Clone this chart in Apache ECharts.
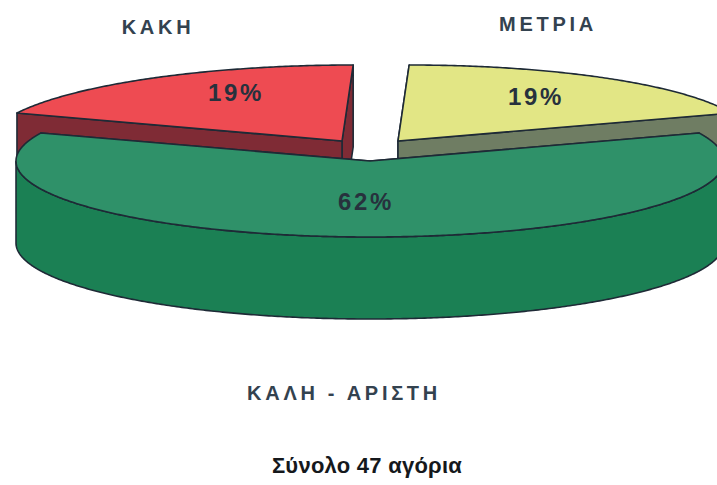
<!DOCTYPE html>
<html>
<head>
<meta charset="utf-8">
<style>
html,body{margin:0;padding:0;background:#fff}
#c{width:717px;height:485px}
#c svg text[style*="24px"]{letter-spacing:2.7px}
#c svg text[style*="20px"]{letter-spacing:3.7px}
#c svg text[style*="22px"]{letter-spacing:.25px}
</style>
<script src="https://cdn.jsdelivr.net/npm/echarts@6/dist/echarts.min.js"></script>
</head>
<body>
<div id="c"></div>
<script>
const categories = ['ΜΕΤΡΙΑ', 'ΚΑΚΗ', 'ΚΑΛΗ - ΑΡΙΣΤΗ'];
const values = [19, 19, 62];
const valueLabels = ['19%', '19%', '62%'];
const topColors = ['#e2e685', '#ee4b52', '#2f9169'];
const sideColors = ['#6f7d63', '#7f2b35', '#1b8054'];
const explodeX = [28, -28, 0];
const explodeY = [-20, -20, 0];
const leans = [0.147, 0.147, 0];
const valueLabelX = [536, 236, 366];
const valueLabelY = [96, 92, 201];
const nameX = [548, 158, 344];
const nameY = [24, 27, 393];
const title = 'Σύνολο 47 αγόρια';

const centerX = 370, centerY = 161, radiusX = 354, radiusY = 76, depth = 82;
const startAngle = 21.6;
const stroke = '#1e2a36';
const total = values.reduce((a, b) => a + b, 0);

function renderItem(params, api) {
  const i = params.dataIndex;
  let before = 0;
  for (let k = 0; k < i; k++) before += values[k];
  const value = api.value(0);
  const a0 = startAngle + before / total * 360;
  const a1 = a0 + value / total * 360;
  const cx = centerX + explodeX[i], cy = centerY + explodeY[i], lean = leans[i];
  const pt = (deg, drop) => {
    const t = deg * Math.PI / 180, s = Math.sin(t);
    return [cx + radiusX * Math.cos(t) + lean * radiusY * s, cy - radiusY * s + drop];
  };
  const arc = [];
  for (let d = a0; d < a1; d += 0.5) arc.push(pt(d, 0));
  arc.push(pt(a1, 0));
  const apex = [cx, cy];
  const down = p => [p[0], p[1] + depth];
  const shapeStyle = fill => ({ fill, stroke, lineWidth: 1.6, lineJoin: 'round' });
  const poly = (points, fill) => ({ type: 'polygon', shape: { points }, style: shapeStyle(fill), silent: true });
  const ends = [arc[0], arc[arc.length - 1]].sort((p, q) => p[1] - q[1]);
  const children = ends.map(e => poly([apex, e, down(e), down(apex)], sideColors[i]));
  const front = arc.filter(p => p[1] >= cy);
  if (front.length > 1) {
    children.push(poly(front.concat(front.slice().reverse().map(down)), sideColors[i]));
  }
  children.push(poly([apex].concat(arc), topColors[i]));
  children.push({
    type: 'text', silent: true,
    style: { x: valueLabelX[i], y: valueLabelY[i], text: valueLabels[i], fill: '#27313d',
      font: 'bold 24px "Liberation Sans", Arial, sans-serif', align: 'center', verticalAlign: 'middle' }
  });
  children.push({
    type: 'text', silent: true,
    style: { x: nameX[i], y: nameY[i], text: categories[i], fill: '#33424f',
      font: 'bold 20px "Liberation Sans", Arial, sans-serif', align: 'center', verticalAlign: 'middle' }
  });
  return { type: 'group', children };
}

const chart = echarts.init(document.getElementById('c'), null, { renderer: 'svg', width: 717, height: 485 });
chart.setOption({
  animation: false,
  backgroundColor: '#ffffff',
  title: {
    text: title, left: 362, top: 449, textAlign: 'center',
    textStyle: { color: '#15181c', fontFamily: '"Liberation Sans", Arial, sans-serif', fontWeight: 'bold', fontSize: 22 }
  },
  series: [{
    type: 'custom',
    coordinateSystem: 'none',
    renderItem,
    clip: false,
    data: values.map((v, i) => ({ name: categories[i], value: [v] }))
  }]
});
</script>
</body>
</html>
